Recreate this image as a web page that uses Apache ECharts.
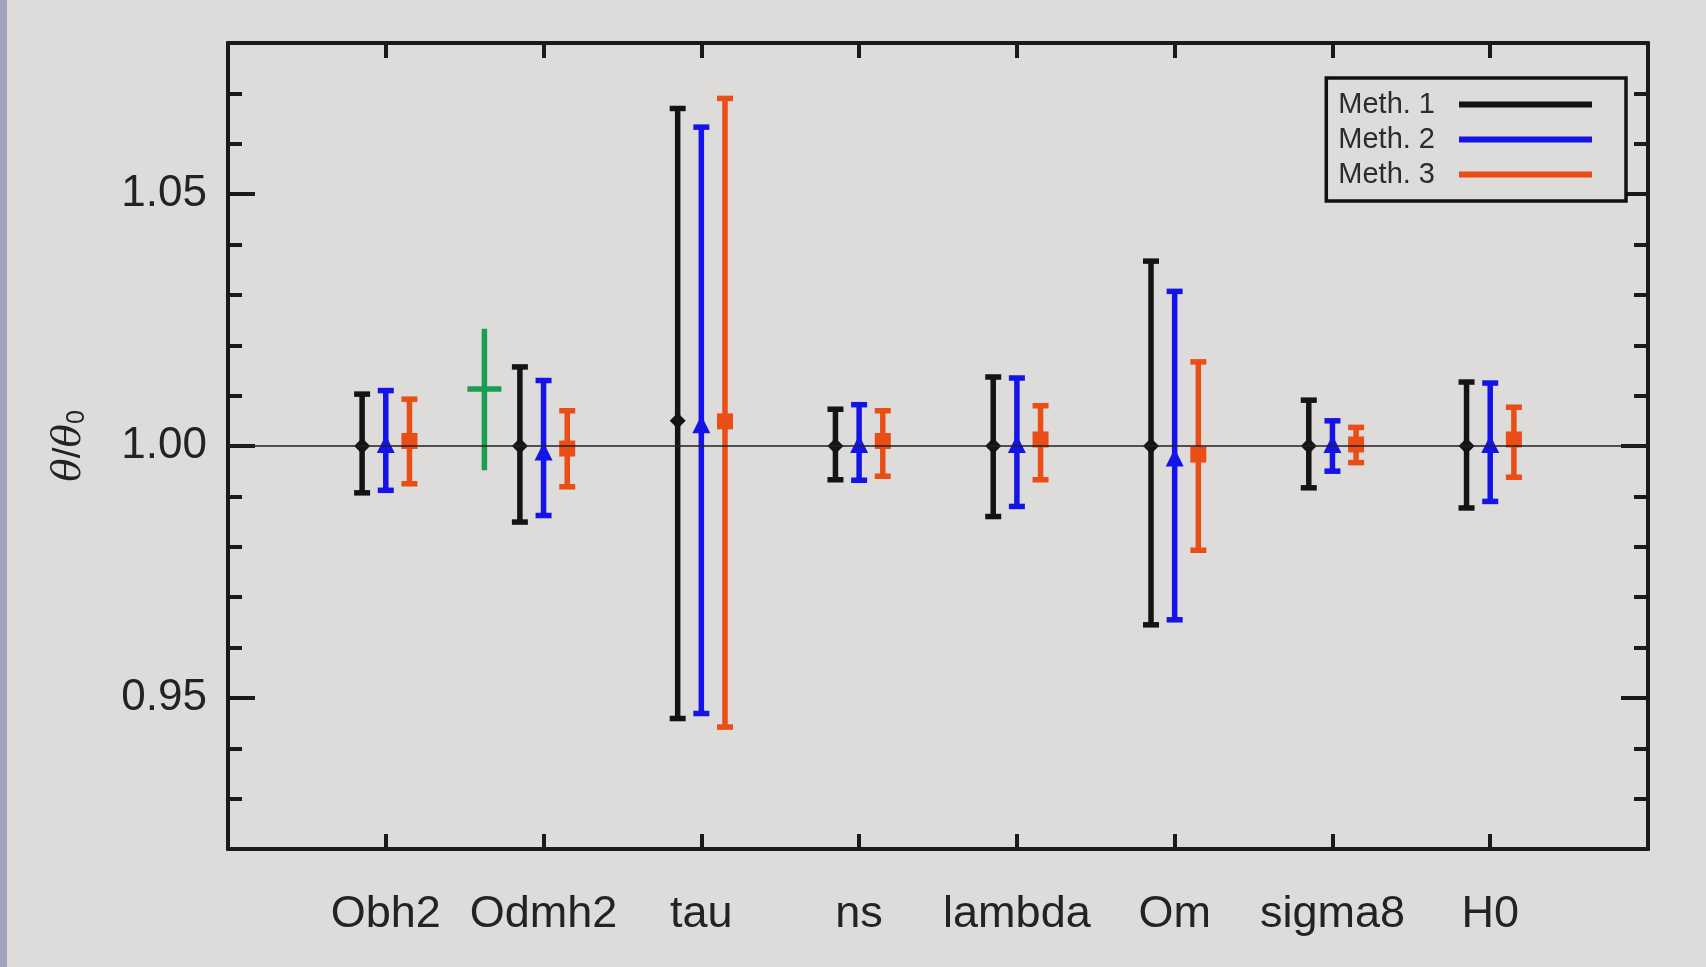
<!DOCTYPE html>
<html>
<head>
<meta charset="utf-8">
<script src="https://cdn.jsdelivr.net/npm/echarts@6/dist/echarts.min.js"></script>
<style>
html, body { margin: 0; padding: 0; background: #dddcda; }
#chart { width: 1706px; height: 967px; }
</style>
</head>
<body>
<div id="chart"></div>
<script>
const categories = ['Obh2', 'Odmh2', 'tau', 'ns', 'lambda', 'Om', 'sigma8', 'H0'];
const methods = ['Meth. 1', 'Meth. 2', 'Meth. 3'];

// centre, lower end and upper end of each error bar
const meth1Center = [1.000, 1.000, 1.005, 1.000, 1.000, 1.000, 1.000, 1.000];
const meth1Low = [0.9907, 0.9849, 0.9459, 0.9933, 0.9860, 0.9645, 0.9917, 0.9877];
const meth1High = [1.0103, 1.0157, 1.0670, 1.0073, 1.0137, 1.0367, 1.0091, 1.0127];

const meth2Center = [1.000, 0.9985, 1.0039, 1.000, 1.000, 0.9973, 1.000, 1.000];
const meth2Low = [0.9912, 0.9862, 0.9469, 0.9932, 0.9880, 0.9655, 0.9950, 0.9890];
const meth2High = [1.0110, 1.0130, 1.0633, 1.0082, 1.0135, 1.0307, 1.0050, 1.0125];

const meth3Center = [1.0010, 0.9995, 1.0049, 1.0010, 1.0013, 0.9983, 1.0003, 1.0013];
const meth3Low = [0.9925, 0.9919, 0.9442, 0.9940, 0.9933, 0.9793, 0.9967, 0.9938];
const meth3High = [1.0093, 1.0070, 1.0690, 1.0070, 1.0080, 1.0167, 1.0037, 1.0077];

// the lone green point between Obh2 and Odmh2
const refPos = [1.625];
const refCenter = [1.0113];
const refLow = [0.9952];
const refHigh = [1.0233];

const yTicks = [0.95, 1.00, 1.05];
const xTicks = [1, 2, 3, 4, 5, 6, 7, 8];

const colors = ['#141414', '#1414e8', '#ea4d16'];
const offsets = [-0.15, 0, 0.15];
const markers = ['diamond', 'triangle', 'square'];

function buildData(center, low, high, offset) {
	return categories.map((c, i) => [i + 1 + offset, center[i], low[i], high[i]]);
}

function markerShape(type, p, color) {
	const x = p[0], y = p[1];
	if (type === 'diamond') {
		return { type: 'polygon', shape: { points: [[x, y - 8], [x + 8, y], [x, y + 8], [x - 8, y]] }, style: { fill: color } };
	}
	if (type === 'triangle') {
		return { type: 'polygon', shape: { points: [[x, y - 11], [x + 9, y + 7], [x - 9, y + 7]] }, style: { fill: color } };
	}
	return { type: 'rect', shape: { x: x - 8, y: y - 8, width: 16, height: 16 }, style: { fill: color } };
}

function errorBar(type, color) {
	return function (params, api) {
		const x = api.value(0);
		const mid = api.coord([x, api.value(1)]);
		const lo = api.coord([x, api.value(2)]);
		const hi = api.coord([x, api.value(3)]);
		const line = { stroke: color, lineWidth: 5.5 };
		return {
			type: 'group',
			children: [
				{ type: 'line', shape: { x1: hi[0], y1: hi[1], x2: lo[0], y2: lo[1] }, style: line },
				{ type: 'line', shape: { x1: hi[0] - 8, y1: hi[1], x2: hi[0] + 8, y2: hi[1] }, style: line },
				{ type: 'line', shape: { x1: lo[0] - 8, y1: lo[1], x2: lo[0] + 8, y2: lo[1] }, style: line },
				markerShape(type, mid, color)
			]
		};
	};
}

function crossBar(params, api) {
	const x = api.value(0);
	const mid = api.coord([x, api.value(1)]);
	const lo = api.coord([x, api.value(2)]);
	const hi = api.coord([x, api.value(3)]);
	const line = { stroke: '#1a9e52', lineWidth: 5.5 };
	return {
		type: 'group',
		children: [
			{ type: 'line', shape: { x1: hi[0], y1: hi[1], x2: lo[0], y2: lo[1] }, style: line },
			{ type: 'line', shape: { x1: mid[0] - 17, y1: mid[1], x2: mid[0] + 17, y2: mid[1] }, style: line }
		]
	};
}

const centers = [meth1Center, meth2Center, meth3Center];
const lows = [meth1Low, meth2Low, meth3Low];
const highs = [meth1High, meth2High, meth3High];

const font = 'Liberation Sans, Arial, sans-serif';
const axisCol = '#1a1a1a';
const textCol = '#232327';

const series = methods.map((name, k) => ({
	name: name,
	type: 'custom',
	xAxisIndex: 0,
	yAxisIndex: 0,
	itemStyle: { color: colors[k] },
	renderItem: errorBar(markers[k], colors[k]),
	encode: { x: 0, y: [1, 2, 3] },
	data: buildData(centers[k], lows[k], highs[k], offsets[k]),
	z: 3
}));

series[0].markLine = {
	silent: true,
	symbol: 'none',
	label: { show: false },
	lineStyle: { color: '#222', width: 1.5, type: 'solid' },
	data: [{ yAxis: 1 }]
};

series.push({
	name: 'ref',
	type: 'custom',
	xAxisIndex: 0,
	yAxisIndex: 0,
	renderItem: crossBar,
	encode: { x: 0, y: [1, 2, 3] },
	data: refPos.map((p, i) => [p, refCenter[i], refLow[i], refHigh[i]]),
	z: 3
});

function yAxisDef(pos, longTicks, withLabels) {
	const ax = {
		type: 'value',
		position: pos,
		min: 0.92,
		max: 1.08,
		interval: 0.01,
		axisLine: { show: true, lineStyle: { color: axisCol, width: 4 } },
		axisTick: { show: true, inside: true, length: 14, lineStyle: { color: axisCol, width: 4 } },
		axisLabel: { show: false },
		splitLine: { show: false }
	};
	if (longTicks) {
		ax.axisTick = { show: true, inside: true, length: 27, customValues: yTicks, lineStyle: { color: axisCol, width: 4 } };
	}
	if (withLabels) {
		ax.axisLabel = {
			show: true,
			customValues: yTicks,
			formatter: v => v.toFixed(2),
			fontFamily: font,
			fontSize: 44,
			color: textCol,
			margin: 21
		};
		ax.name = '{t|θ}/{t|θ}{s|0}';
		ax.nameLocation = 'middle';
		ax.nameRotate = 90;
		ax.nameGap = 138;
		ax.nameTextStyle = {
			rich: {
				t: { fontFamily: 'DejaVu Serif', fontStyle: 'italic', fontSize: 39, color: textCol },
				s: { fontFamily: font, fontSize: 25, color: textCol, verticalAlign: 'bottom', padding: [16, 0, 0, 0] }
			},
			fontFamily: font, fontSize: 39, color: textCol
		};
	}
	return ax;
}

function xAxisDef(pos, withLabels) {
	return {
		type: 'value',
		position: pos,
		min: 0,
		max: 9,
		interval: 1,
		axisLine: { show: true, lineStyle: { color: axisCol, width: 4 } },
		axisTick: { show: true, inside: true, length: 15, customValues: xTicks, lineStyle: { color: axisCol, width: 4 } },
		axisLabel: withLabels ? {
			show: true,
			customValues: xTicks,
			formatter: v => categories[v - 1],
			fontFamily: font,
			fontSize: 45,
			color: textCol,
			margin: 43
		} : { show: false },
		splitLine: { show: false }
	};
}

const chart = echarts.init(document.getElementById('chart'));
chart.setOption({
	backgroundColor: '#dddcda',
	animation: false,
	grid: { left: 228, right: 58, top: 43, bottom: 118 },
	xAxis: [xAxisDef('bottom', true), xAxisDef('top', false)],
	yAxis: [yAxisDef('left', false, true), yAxisDef('left', true, false), yAxisDef('right', false, false), yAxisDef('right', true, false)],
	legend: {
		data: methods.map(m => ({ name: m, icon: 'rect' })),
		orient: 'vertical',
		align: 'right',
		right: 80,
		top: 78,
		itemWidth: 133,
		itemHeight: 6,
		itemGap: 6,
		padding: [12, 34, 12, 12],
		borderColor: '#111',
		borderWidth: 3.5,
		backgroundColor: '#dddcda',
		selectedMode: false,
		textStyle: { fontFamily: font, fontSize: 29, color: '#2b2b30', padding: [0, 19, 0, 0] }
	},
	graphic: [
		{ type: 'rect', left: 0, top: 0, shape: { width: 7, height: 967 }, style: { fill: '#a3a2bc' } }
	],
	series: series
});
</script>
</body>
</html>
